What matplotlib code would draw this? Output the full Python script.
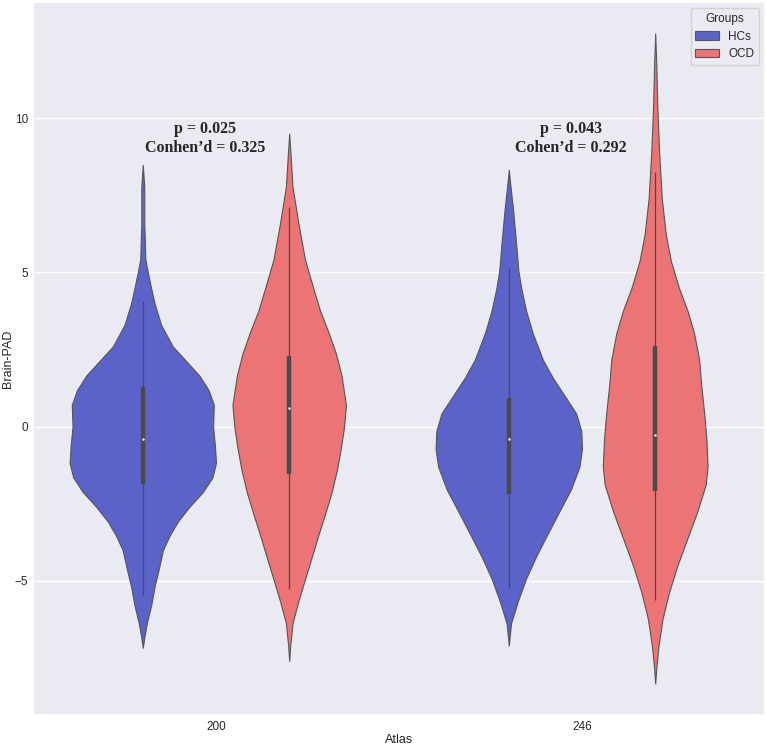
import matplotlib
matplotlib.use("Agg")
import matplotlib.pyplot as plt
from matplotlib.patches import Patch
import seaborn as sns

sns.set_theme(style="darkgrid")
plt.rcParams['font.family'] = ['Liberation Sans', 'DejaVu Sans']

# ---------------- data ----------------
categories = ["200", "246"]
groups = ["HCs", "OCD"]
colors = {"HCs": "#5B63C9", "OCD": "#EC7475"}

# density profiles: y values and half-widths (in category units)
hc200_y = [8.49, 7.78, 6.6, 5.42, 4.99, 4.48, 4.0, 3.3, 2.6, 2.12, 1.65, 1.18, 0.71, 0.0,
           -0.6, -1.18, -1.65, -2.12, -2.59, -3.07, -3.54, -4.0, -4.6, -5.19, -5.78, -6.37, -6.84, -7.17]
hc200_w = [0.0, 0.004, 0.004, 0.007, 0.014, 0.023, 0.032, 0.05, 0.082, 0.119, 0.155, 0.18, 0.194, 0.192,
           0.197, 0.2, 0.19, 0.164, 0.128, 0.096, 0.073, 0.055, 0.044, 0.032, 0.023, 0.011, 0.004, 0.0]

ocd200_y = [9.5, 8.96, 7.78, 6.6, 5.42, 4.48, 3.77, 3.07, 2.36, 1.65, 0.71, 0.0, -0.71, -1.42,
            -2.12, -2.83, -3.54, -4.25, -4.95, -5.66, -6.37, -7.08, -7.6]
ocd200_w = [0.0, 0.003, 0.009, 0.025, 0.043, 0.066, 0.084, 0.107, 0.128, 0.143, 0.155, 0.15, 0.141, 0.13,
            0.116, 0.098, 0.079, 0.061, 0.043, 0.025, 0.009, 0.003, 0.0]

hc246_y = [8.33, 7.97, 7.1, 5.94, 5.07, 4.49, 3.77, 3.04, 2.17, 1.59, 1.01, 0.43, -0.14, -0.72,
           -1.3, -2.03, -2.75, -3.48, -4.2, -4.93, -5.65, -6.38, -7.1]
hc246_w = [0.0, 0.003, 0.011, 0.02, 0.026, 0.034, 0.047, 0.065, 0.093, 0.12, 0.152, 0.184, 0.198, 0.2,
           0.193, 0.17, 0.138, 0.106, 0.075, 0.047, 0.025, 0.006, 0.0]

ocd246_y = [12.75, 11.74, 10.29, 8.84, 7.39, 6.23, 5.36, 4.49, 3.77, 3.04, 2.17, 1.3, 0.43, -0.43,
            -1.3, -1.88, -2.75, -3.62, -4.49, -5.36, -6.23, -7.1, -7.83, -8.33]
ocd246_w = [0.0, 0.003, 0.006, 0.011, 0.018, 0.029, 0.043, 0.065, 0.088, 0.106, 0.12, 0.126, 0.134, 0.14,
            0.143, 0.138, 0.115, 0.088, 0.061, 0.038, 0.02, 0.009, 0.003, 0.0]

# box stats: whisker low, q1, median, q3, whisker high
hc200_box = [-5.45, -1.85, -0.41, 1.27, 4.07]
ocd200_box = [-5.28, -1.53, 0.62, 2.3, 7.13]
hc246_box = [-5.22, -2.17, -0.39, 0.94, 5.14]
ocd246_box = [-5.62, -2.1, -0.26, 2.61, 8.26]

annot_lines = [["p = 0.025", "Conhen\u2019d = 0.325"], ["p = 0.043", "Cohen\u2019d = 0.292"]]

# ---------------- plotting ----------------
fig = plt.figure(figsize=(7.67, 7.45), dpi=100)
ax = fig.add_axes([33 / 767, 1 - 715 / 745, (765 - 33) / 767, (715 - 2) / 745])

violins = [
    (0, "HCs", hc200_y, hc200_w, hc200_box),
    (0, "OCD", ocd200_y, ocd200_w, ocd200_box),
    (1, "HCs", hc246_y, hc246_w, hc246_box),
    (1, "OCD", ocd246_y, ocd246_w, ocd246_box),
]
offsets = {"HCs": -0.2, "OCD": 0.2}
edge = "#555555"
for ci, g, ys, ws, box in violins:
    c = ci + offsets[g]
    left = [c - w for w in ws]
    right = [c + w for w in ws]
    ax.fill_betweenx(ys, left, right, facecolor=colors[g], edgecolor=edge,
                     linewidth=0.8, zorder=2)
    ax.plot([c, c], [box[0], box[4]], color="#4a4a4a", lw=0.9, zorder=3,
            solid_capstyle="butt")
    ax.plot([c, c], [box[1], box[3]], color="#4a4a4a", lw=3.2, zorder=3,
            solid_capstyle="butt")
    ax.scatter([c], [box[2]], s=3, color="white", zorder=4, linewidths=0)

for ci, lines in enumerate(annot_lines):
    ax.text(ci - 0.03, 9.53, lines[0], ha="center", va="baseline",
            fontsize=11.5, fontweight="bold", family=["Liberation Serif"])
    ax.text(ci - 0.03, 8.92, lines[1], ha="center", va="baseline",
            fontsize=11.5, fontweight="bold", family=["Liberation Serif"])

ax.set_xlim(-0.5, 1.5)
ax.set_ylim(-9.35, 13.77)
ax.set_xticks([0, 1])
ax.set_xticklabels(categories)
ax.set_yticks([-5, 0, 5, 10])
ax.grid(False, axis="x")
ax.tick_params(axis="y", labelsize=8.5, colors="#262626", length=0, pad=3.5)
ax.tick_params(axis="x", labelsize=8.5, colors="#262626", length=0, pad=4)
ax.set_xlabel("Atlas", fontsize=9, labelpad=1, color="#262626")
ax.set_ylabel("Brain-PAD", fontsize=9, labelpad=0.5, color="#262626")

handles = [Patch(facecolor=colors[g], edgecolor=edge, linewidth=0.8, label=g) for g in groups]
ax.legend(handles=handles, title="Groups", loc="upper right", fontsize=8.5, title_fontsize=8.5)

fig.savefig("out.png", dpi=100)
